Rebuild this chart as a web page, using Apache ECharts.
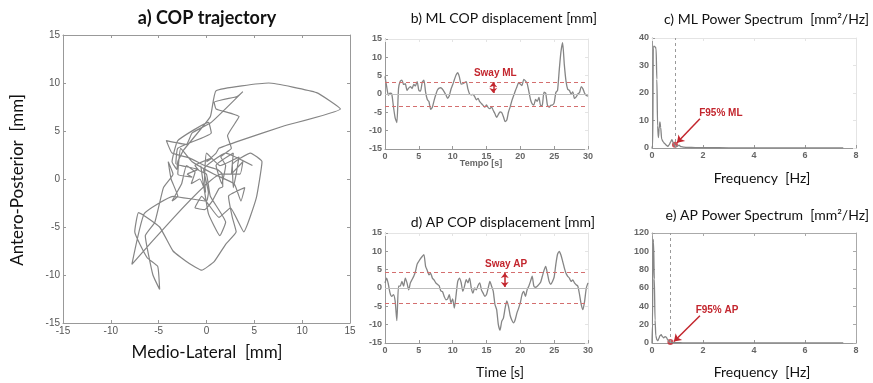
<!DOCTYPE html>
<html>
<head>
<meta charset="utf-8">
<script src="https://cdn.jsdelivr.net/npm/echarts@6/dist/echarts.min.js"></script>
<style>
  html, body { margin: 0; padding: 0; background: #fff; }
  #chart { width: 873px; height: 383px; }
</style>
</head>
<body>
<div id="chart"></div>
<script>
// COP signals sampled every 0.25 s (0..30 s)
const sampleStep = 0.25
const mlMm = [
  4.8, 2.0, -0.3, 0.2, 0.0, -3.5, -6.5, -7.8, 1.5, 3.5, 3.8, 2.6, 2.8, 1.0, 1.6, 2.0,
  1.5, 2.6, 2.2, 3.4, 1.0, 0.8, 3.2, 3.8, 0.5, -1.5, -2.1, -4.2, -3.6, -1.8, -0.2, 1.1,
  1.6, 1.7, 1.3, 0.6, -0.2, -1.2, -0.5, 1.3, 2.5, 3.9, 5.2, 5.8, 4.6, 2.7, 2.8, 3.1,
  3.4, 1.4, 0.0, -0.2, -0.1, -0.7, -1.6, -1.2, -2.1, -2.6, -3.1, -3.6, -3.0, -3.7, -4.0, -3.5,
  -4.5, -5.4, -6.4, -5.6, -4.9, -5.1, -6.2, -7.5, -7.1, -4.9, -3.5, -1.8, -0.5, 0.8, 2.0, 3.1,
  2.7, 2.3, 4.0, 3.6, 2.9, 0.8, -1.5, -2.7, -3.0, -1.5, -2.0, -0.9, -3.2, -3.0, 0.5, 0.2,
  -3.0, -3.6, -3.1, -3.0, -2.4, 0.4, 1.0, 6.5, 11.5, 14.0, 8.0, 3.5, 1.3, 1.0, 0.0, 0.6,
  -1.2, -0.8, 0.0, 0.4, 2.0, 1.4, 0.2, -0.4, -0.6
]
const apMm = [
  1.4, 2.7, 1.0, -1.4, -2.3, -1.8, -3.6, -8.9, 0.5, 0.5, 1.8, 0.5, 2.7, 1.4, -0.5, 1.4,
  2.3, 3.2, 4.5, 6.5, 7.3, 8.0, 8.6, 9.1, 5.9, 4.8, 3.6, 4.0, 2.7, 2.2, 1.4, 1.0,
  0.6, -0.8, -1.0, -2.3, -3.2, -3.0, -1.8, -4.0, -3.0, -5.5, -2.0, 1.8, 2.7, 1.5, -0.9, 0.5,
  2.3, 1.4, 2.7, 0.0, -1.4, 0.0, -0.5, 0.7, 1.4, -0.5, -1.4, -2.3, -1.8, 0.0, 1.8, 0.5,
  -0.9, -4.5, -5.9, -10.0, -11.5, -9.1, -8.2, -5.5, -3.5, -5.0, -7.5, -8.8, -9.5, -8.6, -6.8, -5.5,
  -4.0, -1.8, -0.9, -2.3, -0.5, 0.5, 1.8, 3.2, 0.5, 0.2, 0.5, 1.0, 1.6, 3.2, 4.8, 5.9,
  4.0, 1.8, 1.0, 1.8, 3.0, 6.5, 9.2, 10.0, 9.0, 7.3, 5.5, 4.0, 3.2, 2.7, 1.8, 2.2,
  1.4, 0.9, 0.5, -1.8, -4.5, -5.9, -3.6, 0.0, 1.4
]
const mlSwayMm = 3.3
const apSwayMm = 4.2

// power spectra
const mlFreqHz = [0, 0.03, 0.05, 0.08, 0.12, 0.16, 0.19, 0.22, 0.25, 0.28, 0.31, 0.34, 0.38, 0.44, 0.5, 0.56, 0.62, 0.68,
  0.73, 0.78, 0.84, 0.9, 0.98, 1.06, 1.14, 1.25, 1.4, 1.7, 2.2, 3, 4, 5, 6, 7, 7.5]
const mlPower = [0, 1, 36.5, 37, 36.8, 36.2, 25, 8, 3.8, 7, 9.5, 7.5, 3.2, 2.2, 1.6, 1.0, 0.6, 1.2,
  2.2, 3.0, 1.8, 0.8, 0.6, 1.0, 0.5, 0.3, 0.2, 0.15, 0.1, 0.08, 0.06, 0.05, 0.05, 0.04, 0.04]
const apFreqHz = [0, 0.02, 0.04, 0.06, 0.09, 0.12, 0.15, 0.19, 0.23, 0.27, 0.31, 0.36, 0.41, 0.46, 0.51, 0.56, 0.61, 0.66,
  0.72, 0.8, 0.9, 1.0, 1.2, 1.5, 2, 3, 4, 5, 6, 7, 7.5]
const apPower = [0, 20, 113, 110, 70, 25, 8, 3.5, 2.5, 5, 8, 9, 7, 5.5, 7, 6.5, 4, 1.8,
  0.8, 0.5, 0.3, 0.3, 0.2, 0.2, 0.1, 0.1, 0.1, 0.05, 0.05, 0.05, 0.05]
const mlF95Hz = 0.9
const apF95Hz = 0.72

const timeS = mlMm.map((_, i) => i * sampleStep)

const red = '#c3262e'
const curveColor = '#858585'
const textFont = 'Lato, "Open Sans", sans-serif'

const xAxes = []
const yAxes = []
function addFrame(gridIndex, xr, yr, label, edgeColor) {
  const line = { show: true, onZero: false, lineStyle: { color: '#999', width: 1 } }
  const tick = { show: true, inside: true, length: 3, lineStyle: { color: '#999' } }
  const edge = { show: true, onZero: false, lineStyle: { color: edgeColor, width: 1 } }
  const edgeTick = { show: true, inside: true, length: 3, lineStyle: { color: edgeColor } }
  const base = { gridIndex, type: 'value', splitLine: { show: false } }
  xAxes.push({ ...base, min: xr[0], max: xr[1], interval: xr[2], position: 'bottom',
    axisLine: line, axisTick: tick, axisLabel: { ...label, margin: 3 } })
  xAxes.push({ ...base, min: xr[0], max: xr[1], interval: xr[2], position: 'top',
    axisLine: edge, axisTick: edgeTick, axisLabel: { show: false } })
  yAxes.push({ ...base, min: yr[0], max: yr[1], interval: yr[2], position: 'left',
    axisLine: line, axisTick: tick, axisLabel: { ...label, margin: 3 } })
  yAxes.push({ ...base, min: yr[0], max: yr[1], interval: yr[2], position: 'right',
    axisLine: edge, axisTick: edgeTick, axisLabel: { show: false } })
  return xAxes.length - 2
}

const bigLabel = { color: '#555', fontSize: 10, fontFamily: 'Liberation Sans, Arial, sans-serif' }
const smallLabel = { color: '#666', fontSize: 9, fontWeight: 'bold', fontFamily: 'Liberation Sans, Arial, sans-serif' }

const aAx = addFrame(0, [-15, 15, 5], [-15, 15, 5], bigLabel, '#999')
const bAx = addFrame(1, [0, 30, 5], [-15, 15, 5], smallLabel, '#e4e4e4')
const cAx = addFrame(2, [0, 8, 2], [0, 40, 10], smallLabel, '#e4e4e4')
const dAx = addFrame(3, [0, 30, 5], [-15, 15, 5], smallLabel, '#e4e4e4')
const eAx = addFrame(4, [0, 8, 2], [0, 120, 20], smallLabel, '#aaa')

const zip = (xs, ys) => xs.map((x, i) => [x, ys[i]])

function noteLabel(name, coord) {
  return {
    name, coord, symbol: 'circle', symbolSize: 1,
    itemStyle: { color: 'rgba(0,0,0,0)' },
    label: { show: true, position: 'inside', formatter: '{b}', color: red, fontSize: 10,
      fontWeight: 'bold', fontFamily: 'Liberation Sans, Arial, sans-serif' }
  }
}
// sway band: zero line, dashed +/- sway lines, double arrow
function swayMarks(sway, arrowT) {
  return {
    silent: true, animation: false, symbol: ['none', 'none'], label: { show: false },
    data: [
      [{ coord: [0, 0], lineStyle: { color: '#bdbdbd', type: 'solid', width: 1 } }, { coord: [30, 0] }],
      [{ coord: [0, sway], lineStyle: { color: '#d46f6f', type: [4, 3], width: 1 } }, { coord: [30, sway] }],
      [{ coord: [0, -sway], lineStyle: { color: '#d46f6f', type: [4, 3], width: 1 } }, { coord: [30, -sway] }],
      [
        { coord: [arrowT, sway - 0.1], symbol: 'arrow', symbolSize: [6, 5], lineStyle: { color: red, type: 'solid', width: 1.5 } },
        { coord: [arrowT, 0.3], symbol: 'arrow', symbolSize: [6, 5] }
      ]
    ]
  }
}
function f95Marks(f95, yMax, from, to) {
  return {
    silent: true, animation: false, symbol: ['none', 'none'], label: { show: false },
    data: [
      [{ coord: [f95, 0], lineStyle: { color: '#9a9a9a', type: [3, 3], width: 1 } }, { coord: [f95, yMax] }],
      [
        { coord: from, lineStyle: { color: red, type: 'solid', width: 1.5 } },
        { coord: to, symbol: 'arrow', symbolSize: [7, 7] }
      ]
    ]
  }
}

const chart = echarts.init(document.getElementById('chart'))
chart.setOption({
  backgroundColor: '#fff',
  animation: false,
  grid: [
    { left: 63, top: 35, width: 287, height: 288 },
    { left: 385, top: 39, width: 203, height: 110 },
    { left: 652, top: 38, width: 204, height: 110 },
    { left: 385, top: 233, width: 203, height: 110 },
    { left: 652, top: 233, width: 204, height: 110 }
  ],
  xAxis: xAxes,
  yAxis: yAxes,
  graphic: [
    { type: 'text', x: 207, y: 18, style: { text: 'a) COP trajectory', font: 'bold 18px ' + textFont, fill: '#111', textAlign: 'center', textVerticalAlign: 'middle' } },
    { type: 'text', x: 18, y: 180, rotation: Math.PI / 2, style: { text: 'Antero-Posterior  [mm]', font: '17px ' + textFont, fill: '#111', textAlign: 'center', textVerticalAlign: 'middle' } },
    { type: 'text', x: 207, y: 353, style: { text: 'Medio-Lateral  [mm]', font: '17px ' + textFont, fill: '#111', textAlign: 'center', textVerticalAlign: 'middle' } },
    { type: 'text', x: 597, y: 18, style: { text: 'b) ML COP displacement [mm]', font: '14px ' + textFont, fill: '#111', textAlign: 'right', textVerticalAlign: 'middle' } },
    { type: 'text', x: 481, y: 164, style: { text: 'Tempo [s]', font: 'bold 9px Liberation Sans, Arial, sans-serif', fill: '#666', textAlign: 'center', textVerticalAlign: 'middle' } },
    { type: 'text', x: 869, y: 19, style: { text: 'c) ML Power Spectrum  [mm²/Hz]', font: '14px ' + textFont, fill: '#111', textAlign: 'right', textVerticalAlign: 'middle' } },
    { type: 'text', x: 762, y: 178, style: { text: 'Frequency  [Hz]', font: '14px ' + textFont, fill: '#111', textAlign: 'center', textVerticalAlign: 'middle' } },
    { type: 'text', x: 595, y: 222, style: { text: 'd) AP COP displacement [mm]', font: '14px ' + textFont, fill: '#111', textAlign: 'right', textVerticalAlign: 'middle' } },
    { type: 'text', x: 500, y: 372, style: { text: 'Time [s]', font: '14px ' + textFont, fill: '#111', textAlign: 'center', textVerticalAlign: 'middle' } },
    { type: 'text', x: 869, y: 215, style: { text: 'e) AP Power Spectrum  [mm²/Hz]', font: '14px ' + textFont, fill: '#111', textAlign: 'right', textVerticalAlign: 'middle' } },
    { type: 'text', x: 762, y: 372, style: { text: 'Frequency  [Hz]', font: '14px ' + textFont, fill: '#111', textAlign: 'center', textVerticalAlign: 'middle' } }
  ],
  series: [
    {
      // a) trajectory: ML against AP
      type: 'line', xAxisIndex: aAx, yAxisIndex: aAx,
      data: zip(mlMm, apMm), showSymbol: false, smooth: 0.12,
      lineStyle: { color: curveColor, width: 1.2 }
    },
    {
      type: 'line', xAxisIndex: bAx, yAxisIndex: bAx,
      data: zip(timeS, mlMm), showSymbol: false, smooth: 0.2,
      lineStyle: { color: curveColor, width: 1.3 },
      markLine: swayMarks(mlSwayMm, 16.0),
      markPoint: { silent: true, animation: false, data: [noteLabel('Sway ML', [16.3, 5.7])] }
    },
    {
      type: 'line', xAxisIndex: cAx, yAxisIndex: cAx,
      data: zip(mlFreqHz, mlPower), showSymbol: false, smooth: 0.3, smoothMonotone: 'x',
      lineStyle: { color: curveColor, width: 1.3 },
      markLine: f95Marks(mlF95Hz, 40, [1.88, 10.6], [0.98, 1.9]),
      markPoint: { silent: true, animation: false, data: [noteLabel('F95% ML', [2.7, 12.5])] }
    },
    {
      type: 'scatter', xAxisIndex: cAx, yAxisIndex: cAx,
      data: [[mlF95Hz, 1.2]], symbolSize: 6, itemStyle: { color: red }
    },
    {
      type: 'line', xAxisIndex: dAx, yAxisIndex: dAx,
      data: zip(timeS, apMm), showSymbol: false, smooth: 0.2,
      lineStyle: { color: curveColor, width: 1.3 },
      markLine: swayMarks(apSwayMm, 17.7),
      markPoint: { silent: true, animation: false, data: [noteLabel('Sway AP', [17.9, 6.4])] }
    },
    {
      type: 'line', xAxisIndex: eAx, yAxisIndex: eAx,
      data: zip(apFreqHz, apPower), showSymbol: false, smooth: 0.3, smoothMonotone: 'x',
      lineStyle: { color: curveColor, width: 1.3 },
      markLine: f95Marks(apF95Hz, 120, [1.88, 29.8], [0.86, 1.6]),
      markPoint: { silent: true, animation: false, data: [noteLabel('F95% AP', [2.55, 36])] }
    },
    {
      type: 'scatter', xAxisIndex: eAx, yAxisIndex: eAx,
      data: [[apF95Hz, 1]], symbolSize: 6, itemStyle: { color: red }
    }
  ]
})
</script>
</body>
</html>
